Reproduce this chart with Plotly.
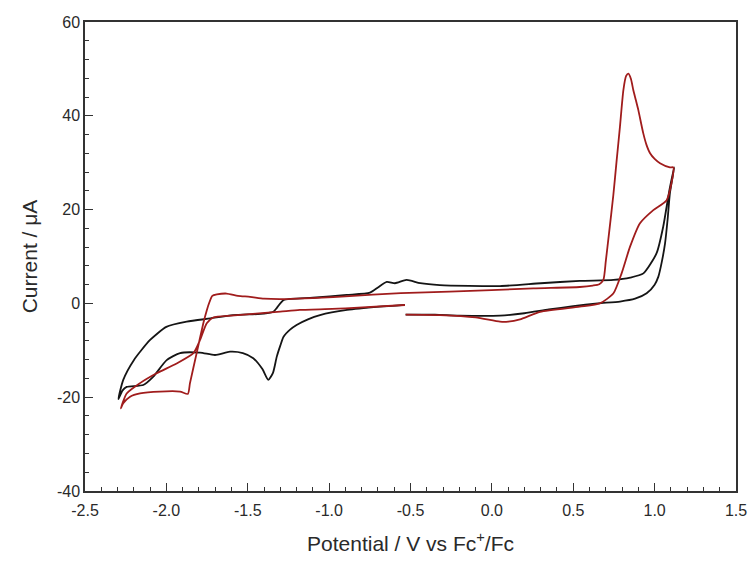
import plotly.graph_objects as go

# Black CV trace (potential V vs Fc+/Fc, current uA)
v_black = [-0.53, -0.35, -0.2, 0.05, 0.2, 0.35, 0.5, 0.65, 0.787, 0.88, 0.951, 1.0, 1.023, 1.045, 1.064, 1.08, 1.094, 1.12,
           1.09, 1.053, 1.012, 0.931, 0.85, 0.747, 0.54, 0.3, 0.05, -0.32, -0.44, -0.524, -0.595, -0.646, -0.70, -0.749,
           -0.892, -1.1, -1.28, -1.32, -1.343, -1.40, -1.59, -1.73, -1.875, -2.0, -2.1, -2.2, -2.265, -2.295,
           -2.27, -2.244, -2.142, -2.08, -1.998, -1.916, -1.793, -1.701, -1.609, -1.53, -1.466, -1.41, -1.374,
           -1.345, -1.322, -1.30, -1.28, -1.24, -1.2, -1.13, -1.056, -0.89, -0.69, -0.534]
i_black = [-2.4, -2.4, -2.6, -2.6, -2.1, -1.3, -0.6, 0.0, 0.4, 1.0, 2.15, 4.0, 5.7, 9.0, 12.8, 18.0, 23.5, 29.0,
           24.0, 16.4, 10.7, 6.4, 5.5, 5.0, 4.8, 4.3, 3.7, 3.9, 4.3, 5.0, 4.3, 4.6, 3.4, 2.3,
           1.8, 1.2, 0.7, -0.9, -1.8, -2.2, -2.5, -3.2, -3.9, -5.0, -7.8, -12.1, -16.3, -20.4,
           -18.6, -17.8, -17.4, -15.6, -12.1, -10.6, -10.5, -11.0, -10.3, -10.6, -11.7, -14.0, -16.3,
           -14.8, -11.4, -9.0, -7.1, -5.6, -4.6, -3.4, -2.5, -1.4, -0.7, -0.3]

# Red CV trace
v_red = [-0.53, -0.32, -0.1, 0.05, 0.1, 0.173, 0.296, 0.54, 0.664, 0.747, 0.797, 0.849, 0.91, 0.992, 1.074, 1.115,
         1.094, 1.033, 1.0, 0.972, 0.95, 0.93, 0.9, 0.885, 0.869, 0.855, 0.839, 0.825, 0.808, 0.787, 0.767, 0.746,
         0.72, 0.70, 0.685, 0.66, 0.62, 0.54, 0.255, -0.26, -0.56,
         -0.9, -1.28, -1.40, -1.486, -1.56, -1.63, -1.69, -1.718, -1.735, -1.752, -1.773, -1.814, -1.855, -1.868,
         -1.916, -2.04, -2.162, -2.223, -2.265, -2.28,
         -2.244, -2.162, -2.06, -1.937, -1.834, -1.793, -1.752, -1.712, -1.6, -1.45, -1.3, -1.18, -0.9, -0.534]
i_red = [-2.4, -2.5, -3.0, -3.9, -3.9, -3.4, -1.8, -0.7, 0.0, 2.15, 6.4, 12.1, 17.1, 19.9, 22.0, 29.0,
         29.0, 29.9, 30.8, 32.0, 33.8, 36.3, 41.2, 43.3, 45.5, 47.8, 49.0, 48.5, 45.5, 37.7, 30.6, 23.0,
         15.0, 9.0, 5.0, 4.1, 3.8, 3.5, 3.2, 2.5, 2.2,
         1.5, 0.9, 1.0, 1.4, 1.6, 2.1, 1.9, 1.6, 0.3, -1.5, -4.25, -10.6, -17.0, -19.3,
         -18.8, -18.8, -19.2, -19.9, -21.3, -22.4,
         -19.2, -17.0, -14.9, -12.8, -10.6, -7.8, -4.25, -3.0, -2.6, -2.2, -1.77, -1.4, -1.05, -0.34]

x_ticks = [-2.5, -2.0, -1.5, -1.0, -0.5, 0.0, 0.5, 1.0, 1.5]
y_ticks = [-40, -20, 0, 20, 40, 60]

FONT = "Liberation Sans, Arial, sans-serif"

fig = go.Figure()
fig.add_trace(go.Scatter(x=v_black, y=i_black, mode="lines",
                         line=dict(color="#151515", width=1.8, shape="spline", smoothing=0.6),
                         showlegend=False))
fig.add_trace(go.Scatter(x=v_red, y=i_red, mode="lines",
                         line=dict(color="#a01c1c", width=1.8, shape="spline", smoothing=0.6),
                         showlegend=False))

tick_common = dict(ticks="inside", ticklen=8, tickwidth=1.2, tickcolor="#333",
                   showgrid=False, zeroline=False, automargin=False)

fig.update_layout(
    width=749, height=561, margin=dict(l=85, r=13, t=22, b=70),
    plot_bgcolor="white", paper_bgcolor="white",
    xaxis=dict(range=[-2.5, 1.5], tickvals=x_ticks, ticktext=[f"{v:.1f}" for v in x_ticks],
               showline=True, linecolor="#333", linewidth=1.5, mirror=True,
               minor=dict(dtick=0.1, tick0=-2.5, ticks="inside", ticklen=4, tickcolor="#333", showgrid=False),
               tickfont=dict(family=FONT, size=16, color="#2a2a2a"), ticklabelstandoff=4,
               title=dict(text="Potential / V vs Fc<sup>+</sup>/Fc",
                          font=dict(family=FONT, size=21, color="#2a2a2a"), standoff=18),
               **tick_common),
    yaxis=dict(range=[-40, 60], tickvals=y_ticks, ticktext=[str(v) for v in y_ticks],
               showline=True, linecolor="#333", linewidth=1.5, mirror=True,
               minor=dict(dtick=4, tick0=-40, ticks="inside", ticklen=4, tickcolor="#333", showgrid=False),
               tickfont=dict(family=FONT, size=16, color="#2a2a2a"),
               title=dict(text="Current / μA",
                          font=dict(family=FONT, size=21, color="#2a2a2a"), standoff=14),
               **tick_common),
    xaxis2=dict(overlaying="x", matches="x", side="top", range=[-2.5, 1.5], tickvals=x_ticks,
                showticklabels=False,
                minor=dict(dtick=0.1, tick0=-2.5, ticks="inside", ticklen=4, tickcolor="#333", showgrid=False),
                **tick_common),
    yaxis2=dict(overlaying="y", matches="y", side="right", range=[-40, 60], tickvals=y_ticks,
                showticklabels=False,
                minor=dict(dtick=4, tick0=-40, ticks="inside", ticklen=4, tickcolor="#333", showgrid=False),
                **tick_common),
)

fig.write_html("out.html")
